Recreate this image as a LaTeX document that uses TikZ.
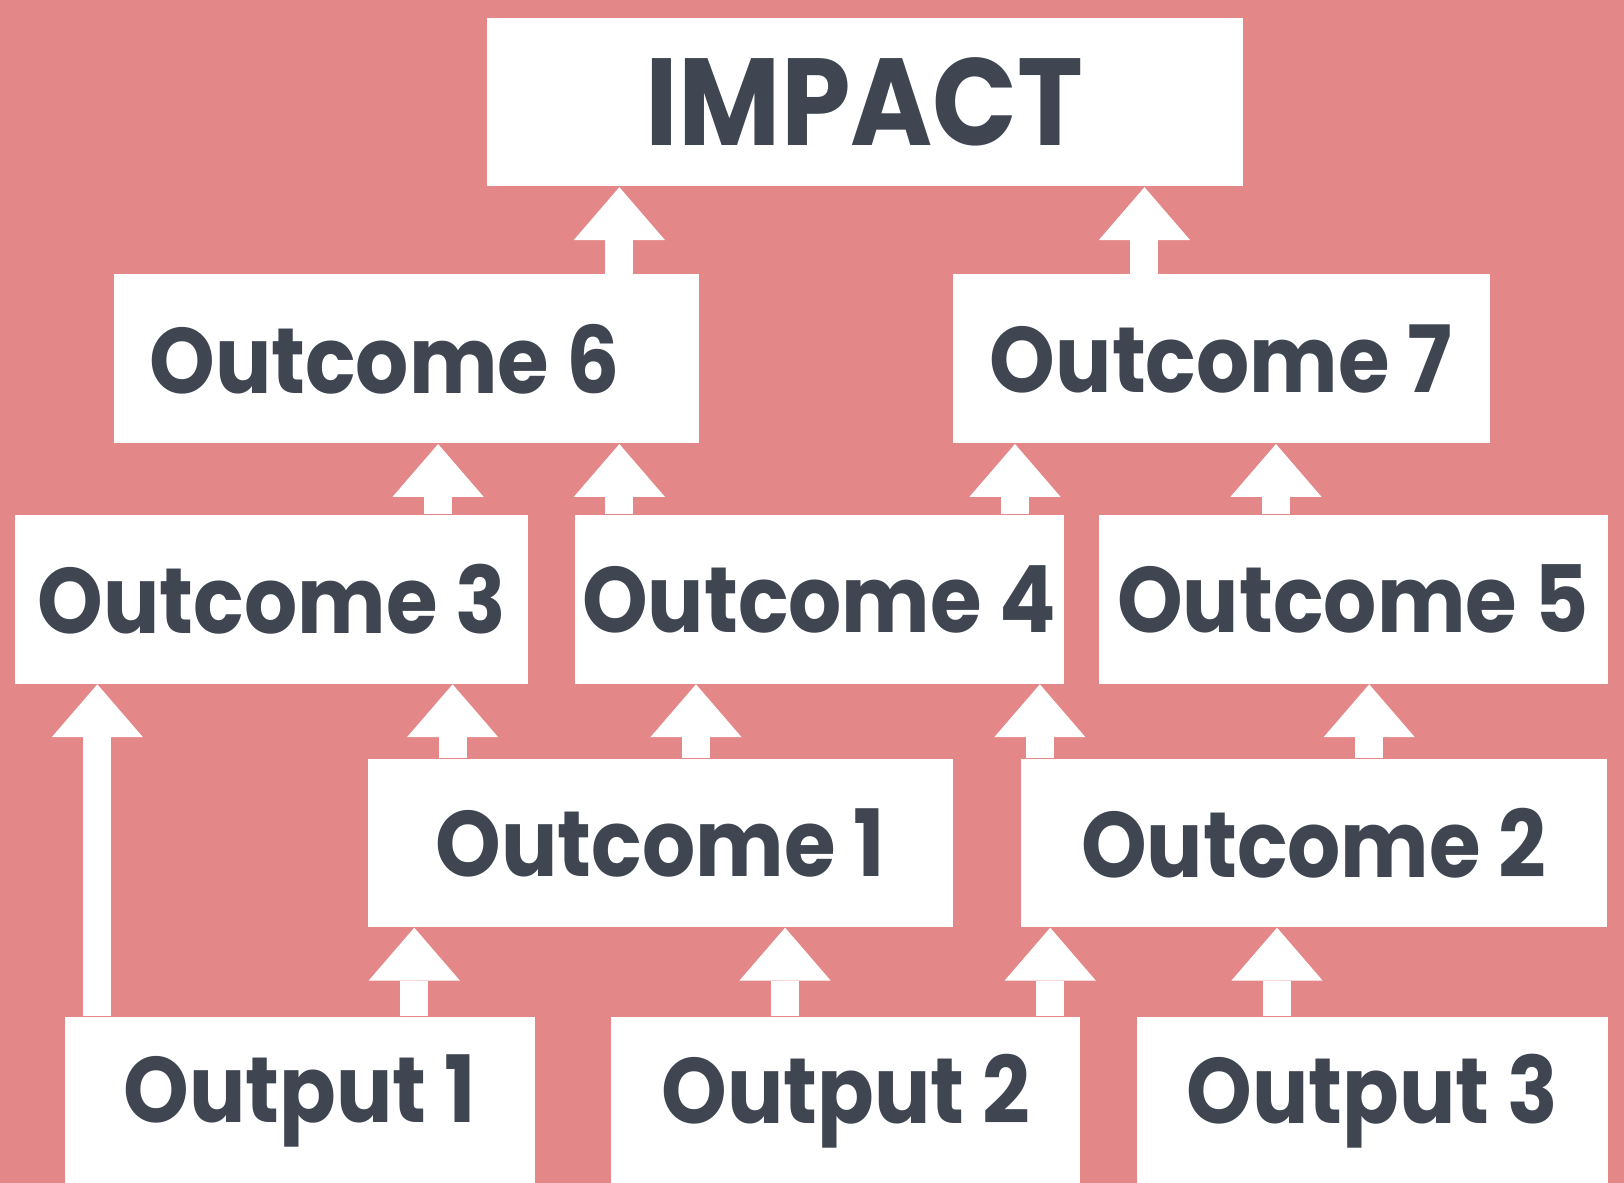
\documentclass[tikz,border=0pt]{standalone}
\usepackage{fontspec}
\setmainfont{Poppins}[FakeStretch=0.9]
\usepackage{xcolor}
\usepackage{tikz}
\usetikzlibrary{arrows.meta}

\definecolor{rose}{HTML}{E38788}
\definecolor{slate}{HTML}{3F4652}

\begin{document}
\begin{tikzpicture}[x=0.01cm,y=0.01cm,
	box/.style={fill=white,draw=none,minimum height=1.63cm,inner sep=0pt,
		text=slate,font=\fontsize{25.5}{28}\selectfont\bfseries},
	up/.style={draw=white,line width=0.27cm,
		-{Triangle[width=0.88cm,length=0.51cm,line width=0pt]}}]
	\def\W{1568}
	\def\H{1142}
	
	\useasboundingbox (0,0) rectangle (\W,\H);
	\fill[rose] (0,0) rectangle (\W,\H);
	
	% boxes
	\node[box,minimum width=7.30cm,font=\fontsize{34}{36}\selectfont\bfseries] (impact) at (835,1043.5) {IMPACT};
	\node[box,minimum width=5.65cm] (o6) at (392.5,795.5) {\hspace*{-0.42cm}Outcome 6};
	\node[box,minimum width=5.18cm] (o7) at (1179,795.5) {Outcome 7};
	\node[box,minimum width=4.95cm] (o3) at (262.5,563.5) {Outcome 3};
	\node[box,minimum width=4.72cm] (o4) at (791,563.5) {Outcome 4};
	\node[box,minimum width=4.91cm] (o5) at (1306.5,563.5) {Outcome 5};
	\node[box,minimum width=5.65cm,minimum height=1.62cm] (o1) at (637.5,328) {Outcome 1};
	\node[box,minimum width=5.65cm,minimum height=1.62cm] (o2) at (1268.5,328) {Outcome 2};
	\node[box,minimum width=4.53cm,minimum height=1.62cm] (out1) at (289.5,79) {Output 1};
	\node[box,minimum width=4.53cm,minimum height=1.62cm] (out2) at (816.5,79) {Output 2};
	\node[box,minimum width=4.54cm,minimum height=1.62cm] (out3) at (1325,79) {Output 3};
	
	% arrows
	\foreach \a/\b/\x in {o6/impact/598, o7/impact/1105,
		o3/o6/423, o4/o6/598, o4/o7/980, o5/o7/1232,
		out1/o3/94, o1/o3/437, o1/o4/672, o2/o4/1004, o2/o5/1322,
		out1/o1/400, out2/o1/758, out2/o2/1014, out3/o2/1233}
		\draw[up] (\a.north -| \x,0) -- (\b.south -| \x,0);
\end{tikzpicture}
\end{document}
